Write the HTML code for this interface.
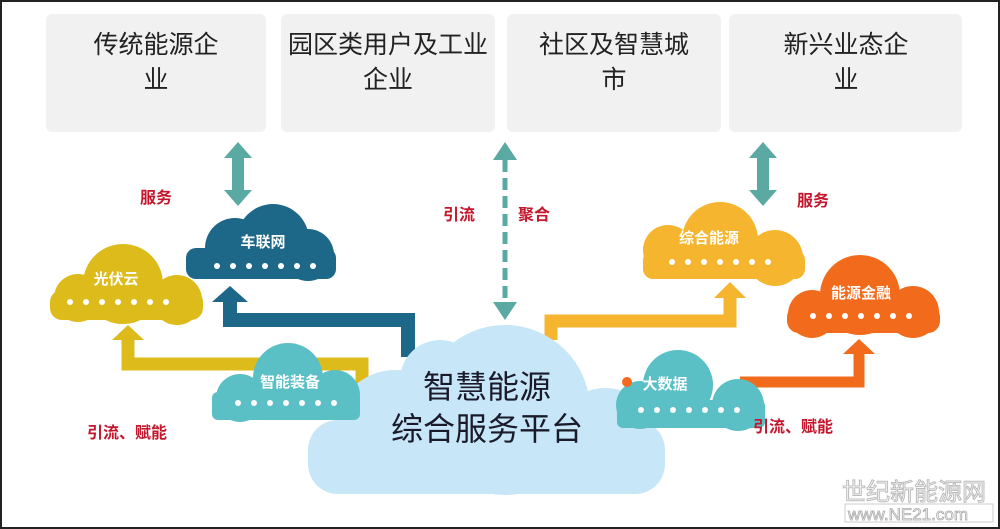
<!DOCTYPE html>
<html><head><meta charset="utf-8"><style>
body{margin:0;background:#fff}
svg{display:block}
text{font-family:"Liberation Sans","Noto Sans CJK SC",sans-serif}
</style></head><body>
<svg width="1000" height="529" viewBox="0 0 1000 529">
<defs>
<g id="d"><circle cx="0" cy="0" r="3"/><circle cx="16" cy="0" r="3"/><circle cx="32" cy="0" r="3"/><circle cx="48" cy="0" r="3"/><circle cx="64" cy="0" r="3"/><circle cx="80" cy="0" r="3"/><circle cx="96" cy="0" r="3"/></g>
</defs>
<rect x="1" y="1" width="998" height="527" fill="#fff" stroke="#222" stroke-width="2"/>
<!-- top boxes -->
<g fill="#f1f1f2">
<rect x="46" y="14" width="220" height="118" rx="6"/>
<rect x="281" y="14" width="214" height="118" rx="6"/>
<rect x="507" y="14" width="214" height="118" rx="6"/>
<rect x="729" y="14" width="233" height="118" rx="6"/>
</g>
<g font-size="25" fill="#222" text-anchor="middle">
<text x="156" y="53">传统能源企</text><text x="156" y="88">业</text>
<text x="388" y="53">园区类用户及工业</text><text x="388" y="88">企业</text>
<text x="614" y="53">社区及智慧城</text><text x="614" y="88">市</text>
<text x="846" y="53">新兴业态企</text><text x="846" y="88">业</text>
</g>
<!-- teal double arrows -->
<g fill="#5aa9a2">
<polygon points="238,142 252,158 244,158 244,190 252,190 238,206 224,190 232,190 232,158 224,158"/>
<polygon points="763,142 777,158 769,158 769,190 777,190 763,206 749,190 757,190 757,158 749,158"/>
<polygon points="505,142 517,160 493,160"/>
<polygon points="505,320 517,302 493,302"/>
</g>
<line x1="505" y1="160" x2="505" y2="302" stroke="#5aa9a2" stroke-width="5" stroke-dasharray="12,6"/>
<!-- connectors -->
<path d="M408,357 V320 H230 V300" fill="none" stroke="#1d6888" stroke-width="14"/>
<polygon points="230,286 248,302 212,302" fill="#1d6888"/>
<path d="M362,384 V364 H128 V338" fill="none" stroke="#dcbb1a" stroke-width="13"/>
<polygon points="128,325 144,340 112,340" fill="#dcbb1a"/>
<path d="M551,340 V321 H730 V296" fill="none" stroke="#f5b52e" stroke-width="13"/>
<polygon points="730,282 746,298 714,298" fill="#f5b52e"/>
<path d="M740,382 H859 V352" fill="none" stroke="#f26b1d" stroke-width="11"/>
<polygon points="859,339 875,354 843,354" fill="#f26b1d"/>
<!-- clouds -->
<g fill="#1d6888">
<circle cx="235" cy="248" r="30"/><circle cx="273" cy="240" r="36"/><circle cx="308" cy="255" r="26"/><rect x="186" y="248" width="150" height="31" rx="10"/>
</g>
<g fill="#dcbb1a">
<circle cx="123" cy="284" r="40"/><circle cx="78" cy="298" r="24"/><circle cx="177" cy="300" r="25"/><rect x="50" y="290" width="153" height="30" rx="12"/>
</g>
<g fill="#c7e6f7">
<circle cx="505" cy="410" r="85"/><circle cx="395" cy="430" r="60"/><circle cx="605" cy="440" r="52"/><circle cx="440" cy="380" r="40"/><rect x="308" y="420" width="357" height="74" rx="30"/>
</g>
<g fill="#5bbfc6">
<circle cx="288" cy="378" r="35"/><circle cx="240" cy="398" r="24"/><circle cx="335" cy="395" r="25"/><rect x="212" y="392" width="148" height="28" rx="6"/>
</g>
<g fill="#f5b52e">
<circle cx="720" cy="240" r="38"/><circle cx="668" cy="250" r="25"/><circle cx="775" cy="258" r="28"/><rect x="643" y="250" width="162" height="29" rx="10"/>
</g>
<g fill="#f26b1d">
<circle cx="860" cy="295" r="40"/><circle cx="812" cy="314" r="24"/><circle cx="913" cy="312" r="26"/><rect x="787" y="305" width="153" height="28" rx="12"/>
</g>
<g fill="#5bbfc6">
<circle cx="678" cy="385" r="35"/><circle cx="640" cy="405" r="24"/><circle cx="738" cy="405" r="26"/><rect x="617" y="400" width="148" height="28" rx="6"/>
</g>
<circle cx="627" cy="382" r="5" fill="#f26b1d"/>
<!-- cloud labels -->
<g fill="#fff" font-weight="bold" font-size="15" text-anchor="middle">
<text x="263" y="247">车联网</text>
<text x="116" y="284">光伏云</text>
<text x="290" y="387">智能装备</text>
<text x="709" y="243">综合能源</text>
<text x="861" y="298">能源金融</text>
<text x="665" y="389">大数据</text>
</g>
<g fill="#fff">
<use href="#d" x="217" y="266"/>
<use href="#d" x="70" y="302"/>
<use href="#d" x="238" y="403"/>
<use href="#d" x="672" y="262"/>
<use href="#d" x="813" y="316"/>
<use href="#d" x="641" y="410"/>
</g>
<!-- main text -->
<g font-size="32" fill="#1a1a2a" text-anchor="middle">
<text x="487" y="398">智慧能源</text>
<text x="487" y="440">综合服务平台</text>
</g>
<!-- red labels -->
<g fill="#c4162c" font-weight="bold" font-size="16">
<text x="140" y="203">服务</text>
<text x="443" y="220">引流</text>
<text x="518" y="220">聚合</text>
<text x="797" y="206">服务</text>
<text x="87" y="438">引流、赋能</text>
<text x="753" y="432">引流、赋能</text>
</g>
<!-- watermark -->
<text x="842" y="500" font-size="24" fill="#fff" stroke="#bbb" stroke-width="1">世纪新能源网</text>
<rect x="845" y="504" width="148" height="18" fill="none" stroke="#ccc"/>
<text x="848" y="520" font-size="17" fill="#fff" stroke="#aaa" stroke-width="0.8">www.NE21.com</text>
</svg>
</body></html>
